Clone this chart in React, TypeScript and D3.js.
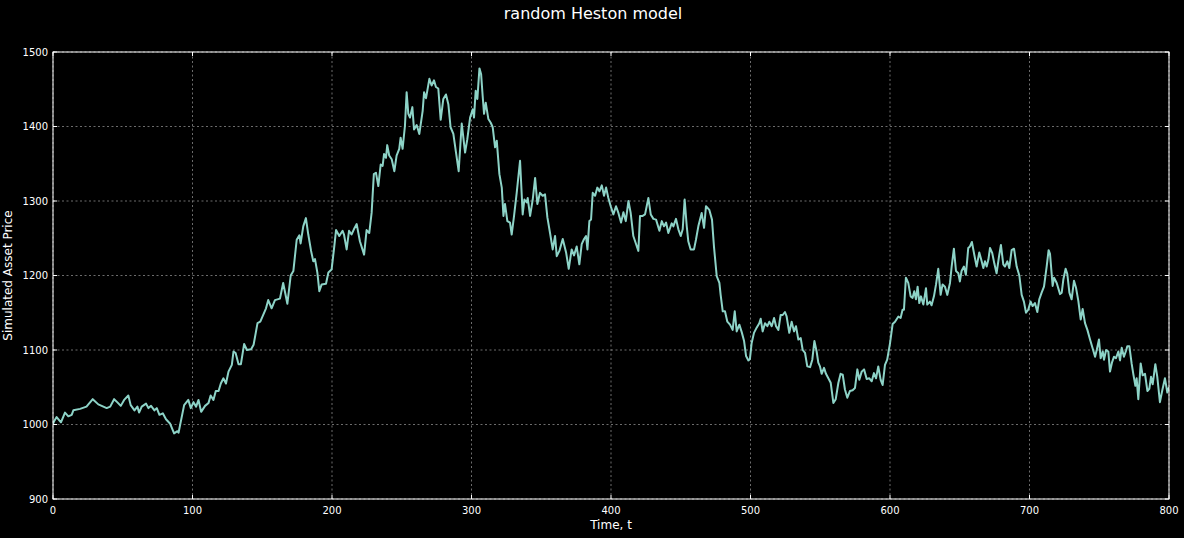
import { useMemo } from "react";
import * as d3 from "d3";

// time steps and simulated price
const timeSteps = [
  0, 0.7, 2.6, 5.7, 8.6, 11, 13.4, 14.6, 19.4, 24, 28.5, 32.5, 38.5, 41, 43.8, 46, 48.6, 51, 54, 55.7,
  58.4, 60.5, 61.7, 63.6, 66.7, 68.4, 70.3, 72.7, 74.4, 76.3, 78.7, 81, 84, 86.8, 89.2, 90, 94, 97, 98.8,
  100.7, 102.6, 104.3, 106.2, 109, 111.5, 113, 115, 116.7, 118.7, 120.3, 122.2, 124, 125.8, 128.2, 129.4,
  130.9, 133, 134.7, 137, 139, 142, 143.8, 146.6, 148.6,
  152.7, 154.3, 156.7, 159.1, 162.7, 165, 168, 170.4, 172.3, 174.7, 176.6, 177.5, 179.4, 181.3, 183, 185,
  186.6, 187.8, 189.5, 190.9, 192.6, 195.7, 197.4, 199.7, 201.4, 202.9, 205.2, 207.6, 208.6, 210.5, 212.2,
  214, 215.7, 217.7, 220, 223, 224.8, 226.7, 228.4, 230, 231.5, 233.2, 234.9, 236.3, 237.3, 238.7, 239.6,
  241, 242.8, 244.7, 246.3, 248.2, 249.2, 250.6, 252.3, 253.5, 254.7, 255.9, 257.6, 258.8, 260.7, 262.6,
  265, 266, 267.4, 269.8, 271.4, 273.1, 274.5, 276.2, 277.9, 279.8, 281.7, 283.4, 285, 287, 288.9, 290.8,
  293, 295.4, 297, 299, 300.9, 301.8, 303, 304.2, 305.7, 306.9, 308, 309, 310.2, 312.1, 313.8, 315.2,
  316.9, 318.1, 320, 321.7, 322.9, 324, 325.7, 327.6, 328.8, 330.5, 332.4, 334.8, 336.7, 337.9, 339.6,
  340.3, 342, 343.9, 345.6, 347.2, 349.1, 351, 352.7, 354.4, 356.3, 358.2, 359.9, 361.1, 363, 365.4,
  367.8, 369.7, 371.8, 373.5, 375.4, 377.3, 379, 380.7, 382.1, 383.1, 384.5, 385.7, 386.9, 388.6, 390.2,
  391.7, 393.4, 395, 396.5, 398.1, 399.8, 401.7, 403.6, 405.3, 407.2, 408.9, 410.6, 412.5, 414.1, 416,
  418, 419.6, 420.8, 422.7, 424.4, 426.8, 428.5, 430.4, 432.3, 434.7, 436.4, 438, 439.5, 441.1,
  443.5, 444.7, 446.6, 448.3, 450, 451.4, 452.8, 454.3, 455.4, 457.1, 459.5, 460.9, 462.6, 465, 466.7,
  468.1, 470.5, 472.4, 473.8, 475.8, 477.7, 478.6, 480.1, 481.7, 483.4, 485.3, 487.2, 488.7, 490.1, 492,
  493.7, 495.4, 496.8, 498.5, 499.6, 500.8, 502.5, 504.4, 506.3, 507.3, 508.7, 510.4, 512.1, 513.5, 515.2,
  516.9, 518.3, 520, 521.6, 523.1, 524.7, 525.9, 527.8, 529.5, 531.2, 532.6, 534.3, 536, 537.4, 539.1,
  540.7, 542.7, 544.3, 545.8, 547.4, 548.6, 549.8, 551, 552.7, 554.1, 555.8, 557.5, 559.4, 561.1, 563,
  564.6, 566.1, 567.7, 569.4, 571.3, 573.2, 574.9, 576.6, 578, 579.7, 581.4, 583.3, 585.2, 586.9, 588.5,
  590, 591.6, 593.3,
  594.7, 596.4, 598, 600, 601.9, 603.6, 606, 607.6, 609, 610, 611.4, 613.1, 614.8, 616.2, 617.4, 618.6,
  619.8, 621, 622.2, 623.9, 625.8, 626.7, 628.6, 629.8, 631.5, 633, 634.6, 636.3, 637.7, 639.4, 641.1,
  643, 644.2, 645.8, 647.3, 649, 650.1, 651.3, 653, 654.4, 656.1, 657.3, 658.7, 660.2, 662.1, 664, 665.7,
  666.9, 668.1, 669.3, 670.5, 671.7, 673.3, 674.8, 676.4, 678.1, 679.5, 681.2, 682.4, 684.1, 685.5, 687.2,
  688.9, 690.8, 692.7, 694.4, 696, 697.5, 699.1, 700.8, 702.2, 703.9, 705.6, 707, 708.7, 710.4, 712.3,
  713.7,
  714.7, 716.6, 717.6, 719.5, 721.9, 723.1, 724.3, 725.9, 727.1, 728.6, 730.2, 731.9, 733.3, 735, 736.7,
  738.1, 739.8, 741.5, 743.4, 745.3, 747, 748.2, 749.8, 751, 752.5, 753.4, 754.9, 756.5, 757.7, 759.1,
  760.6, 762, 763.7, 764.9, 766.1, 767.7, 769.2, 770.1, 771.6, 773.2, 774.4, 775.9, 776.8, 778, 779.7,
  781.1, 782.8, 784.5, 785.9, 787.1, 788.3, 790.2, 791.6, 793.5, 795.2, 797.1, 798.8, 800,
];

const assetPrice = [
  1001, 1004, 1010, 1003, 1016, 1011, 1013, 1019, 1021, 1024, 1034, 1027, 1022, 1024, 1034, 1030, 1025, 1033, 1039, 1026,
  1019, 1024, 1016, 1024, 1028, 1022, 1025, 1019, 1022, 1013, 1015, 1007, 1001, 988, 991, 989, 1026, 1033, 1022,
  1030, 1024, 1033, 1017, 1025, 1029, 1039, 1033, 1045, 1045, 1055, 1062, 1055, 1071, 1080, 1098,
  1096, 1081, 1081, 1108, 1100, 1101, 1107, 1136, 1138,
  1156, 1167, 1156, 1167, 1169, 1190, 1162, 1200, 1206, 1248, 1254, 1243, 1266, 1277, 1255, 1233,
  1219, 1222, 1204, 1179, 1188, 1189, 1204, 1208, 1235, 1261, 1253, 1260, 1255, 1235, 1260,
  1255, 1262, 1269, 1246, 1228, 1261, 1257, 1284, 1336, 1338, 1320, 1349, 1347, 1363, 1358, 1375,
  1361, 1356, 1340, 1361, 1370, 1385, 1370, 1401, 1446, 1417, 1412, 1426, 1396, 1402, 1390,
  1421, 1446, 1438, 1464, 1455, 1462, 1453, 1451, 1409, 1437, 1443, 1430, 1399, 1390, 1365, 1340,
  1404, 1365, 1383, 1412, 1423, 1412, 1448, 1437, 1478, 1470, 1441, 1417, 1432, 1410, 1405, 1399,
  1372, 1381, 1336, 1318, 1280, 1296, 1273, 1271, 1255, 1280, 1311, 1354, 1282, 1302, 1298,
  1304, 1280, 1302, 1331, 1296, 1311, 1307, 1309, 1278, 1257, 1235, 1253, 1226, 1233, 1249,
  1231, 1209, 1235, 1227, 1239, 1215, 1242, 1249, 1253, 1235, 1273, 1275, 1311, 1307, 1318,
  1313, 1321, 1307, 1318, 1304, 1293, 1282, 1293, 1284, 1271, 1285, 1273, 1300, 1284, 1253,
  1242, 1233, 1280, 1280, 1282, 1304, 1282, 1276, 1275, 1260, 1273, 1266, 1271, 1257,
  1270, 1266, 1276, 1262, 1253, 1262, 1302, 1266, 1246, 1235, 1235, 1248, 1266, 1284, 1264,
  1293, 1288, 1275, 1239, 1199, 1190, 1174, 1152, 1152, 1138, 1134, 1127, 1152, 1125, 1134,
  1124, 1112, 1092, 1086, 1088, 1109, 1123, 1130, 1136, 1142, 1125, 1136, 1132, 1138, 1132,
  1143, 1132, 1127, 1147, 1147, 1151, 1145, 1123, 1138, 1125, 1132, 1114, 1116, 1100, 1096,
  1078, 1077, 1087, 1112, 1098, 1083, 1078, 1068, 1076, 1068, 1062, 1056, 1029, 1034, 1056,
  1068, 1067, 1047, 1036, 1045, 1046, 1049, 1074, 1060, 1071, 1074, 1061, 1062, 1058, 1069,
  1062, 1078, 1060,
  1053, 1080, 1087, 1109, 1135, 1138, 1145, 1143, 1154, 1154, 1197, 1190, 1172, 1170, 1179, 1168,
  1185, 1163, 1172, 1161, 1183, 1161, 1165, 1160, 1172, 1188, 1209, 1174, 1188, 1185, 1174,
  1190, 1212, 1236, 1206, 1203, 1192, 1206, 1212, 1201, 1237, 1239, 1245, 1230, 1212, 1231, 1219,
  1210, 1219, 1212, 1221, 1237, 1230, 1216, 1203, 1225, 1241, 1215, 1212, 1219, 1210, 1234,
  1236, 1212, 1200, 1174, 1165, 1150, 1154, 1165, 1159, 1163, 1151, 1168, 1177, 1185, 1212,
  1234,
  1229, 1186, 1197, 1190, 1175, 1177, 1195, 1209, 1202, 1177, 1168, 1193, 1184, 1166, 1141,
  1155, 1136, 1127, 1114, 1102, 1091, 1100, 1114, 1089, 1098, 1087, 1100, 1098, 1071, 1083,
  1091, 1089, 1098, 1086, 1103, 1091, 1099, 1105, 1105, 1082, 1068, 1052, 1062, 1034, 1082,
  1066, 1068, 1045, 1048, 1064, 1054, 1081, 1064, 1030, 1046, 1062, 1043, 1050,
];

const xTicks = [0, 100, 200, 300, 400, 500, 600, 700, 800];
const yTicks = [900, 1000, 1100, 1200, 1300, 1400, 1500];

const W = 1184;
const H = 538;
const margin = { top: 52, right: 15, bottom: 39, left: 53 };

export default function App() {
  const innerW = W - margin.left - margin.right;
  const innerH = H - margin.top - margin.bottom;

  const { x, y, linePath } = useMemo(() => {
    const x = d3.scaleLinear().domain([0, 800]).range([0, innerW]);
    const y = d3.scaleLinear().domain([900, 1500]).range([innerH, 0]);
    const line = d3
      .line<number>()
      .x((_d, i) => x(timeSteps[i]))
      .y((d) => y(d));
    return { x, y, linePath: line(assetPrice) ?? "" };
  }, [innerW, innerH]);

  const font = "'DejaVu Sans', sans-serif";

  return (
    <>
      <style>{`body{margin:0;background:#000}`}</style>
      <svg width={W} height={H} style={{ display: "block", background: "#000" }} fontFamily={font}>
        <text x={593} y={19} textAnchor="middle" fill="#fff" fontSize={16}>
          random Heston model
        </text>
        <g transform={`translate(${margin.left},${margin.top})`}>
          <defs>
            <clipPath id="plot-clip">
              <rect width={innerW} height={innerH} />
            </clipPath>
          </defs>
          {xTicks.map((t) => (
            <line
              key={`gx${t}`}
              x1={x(t)}
              x2={x(t)}
              y1={0}
              y2={innerH}
              stroke="#888"
              strokeWidth={0.8}
              strokeDasharray="2,2.5"
            />
          ))}
          {yTicks.map((t) => (
            <line
              key={`gy${t}`}
              x1={0}
              x2={innerW}
              y1={y(t)}
              y2={y(t)}
              stroke="#888"
              strokeWidth={0.8}
              strokeDasharray="2,2.5"
            />
          ))}
          <path
            d={linePath}
            fill="none"
            stroke="#8dd3c7"
            strokeWidth={2}
            strokeLinejoin="round"
            clipPath="url(#plot-clip)"
          />
          {xTicks.map((t) => (
            <g key={`tx${t}`}>
              <line x1={x(t)} x2={x(t)} y1={innerH} y2={innerH - 4} stroke="#fff" />
              <line x1={x(t)} x2={x(t)} y1={0} y2={4} stroke="#fff" />
              <text x={x(t)} y={innerH + 15} textAnchor="middle" fill="#fff" fontSize={10}>
                {t}
              </text>
            </g>
          ))}
          {yTicks.map((t) => (
            <g key={`ty${t}`}>
              <line x1={0} x2={4} y1={y(t)} y2={y(t)} stroke="#fff" />
              <line x1={innerW} x2={innerW - 4} y1={y(t)} y2={y(t)} stroke="#fff" />
              <text x={-5} y={y(t)} dy="0.35em" textAnchor="end" fill="#fff" fontSize={10}>
                {t}
              </text>
            </g>
          ))}
          <rect width={innerW} height={innerH} fill="none" stroke="#fff" strokeWidth={1} />
          <text x={innerW / 2} y={innerH + 30} textAnchor="middle" fill="#fff" fontSize={12}>
            Time, t
          </text>
          <text
            transform={`translate(${-41},${innerH / 2}) rotate(-90)`}
            textAnchor="middle"
            fill="#fff"
            fontSize={12}
          >
            Simulated Asset Price
          </text>
        </g>
      </svg>
    </>
  );
}
